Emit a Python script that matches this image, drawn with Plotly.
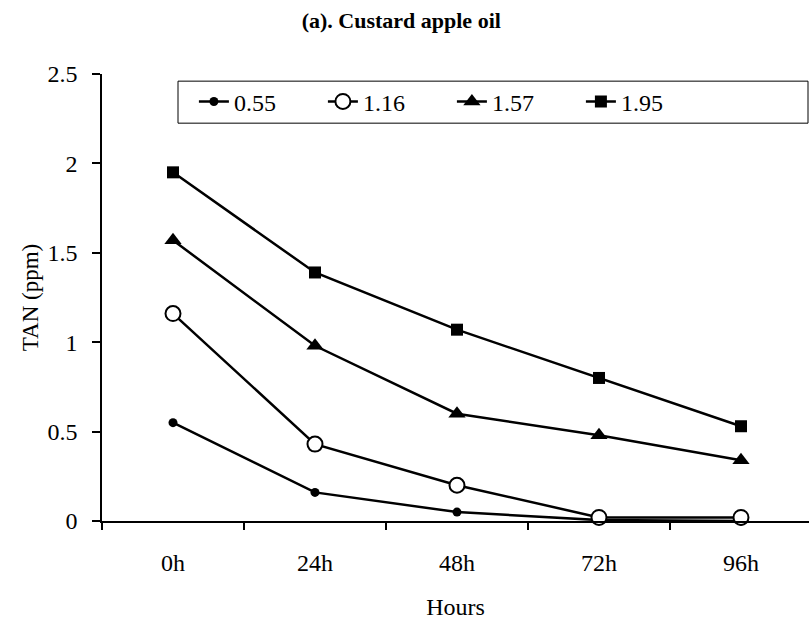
import plotly.graph_objects as go

hours = ["0h", "24h", "48h", "72h", "96h"]
series_names = ["0.55", "1.16", "1.57", "1.95"]
s055 = [0.55, 0.16, 0.05, 0.005, 0.0]
s116 = [1.16, 0.43, 0.20, 0.02, 0.02]
s157 = [1.57, 0.98, 0.60, 0.48, 0.34]
s195 = [1.95, 1.39, 1.07, 0.80, 0.53]
y_ticks = [0, 0.5, 1, 1.5, 2, 2.5]
y_ticktext = ["0", "0.5", "1", "1.5", "2", "2.5"]

FONT = "Liberation Serif, Times New Roman, serif"

styles = [
    dict(symbol="circle", size=9, color="black", line=dict(color="black", width=0)),
    dict(symbol="circle", size=15, color="white", line=dict(color="black", width=2)),
    dict(symbol="triangle-up", size=15, color="black", line=dict(color="black", width=0)),
    dict(symbol="square", size=12, color="black", line=dict(color="black", width=0)),
]

fig = go.Figure()
for name, vals, st in zip(series_names, [s055, s116, s157, s195], styles):
    fig.add_trace(go.Scatter(
        x=hours, y=vals, name=name, mode="lines+markers",
        line=dict(color="black", width=2.5),
        marker=st, cliponaxis=False,
    ))

fig.update_layout(
    width=809, height=623,
    margin=dict(l=102, r=0, t=74, b=102),
    paper_bgcolor="white", plot_bgcolor="white",
    font=dict(family=FONT, color="black", size=24),
    title=dict(text="<b>(a). Custard apple oil</b>", x=0.496, xanchor="center",
               y=0.967, yanchor="middle", font=dict(size=22, family=FONT)),
    showlegend=True,
    legend=dict(orientation="h", x=0.13, xanchor="left", y=0.988, yanchor="top",
                bgcolor="rgba(0,0,0,0)", borderwidth=0,
                entrywidth=84, entrywidthmode="pixels",
                font=dict(size=24, family=FONT), itemwidth=30),
    shapes=[dict(type="rect", xref="paper", yref="paper",
                 x0=0.1075, x1=0.9986, y0=0.890, y1=0.984,
                 line=dict(color="black", width=1), fillcolor="rgba(0,0,0,0)", layer="below")],
)

fig.update_xaxes(
    type="category", range=[-0.5, 4.479],
    showline=True, linecolor="black", linewidth=1.5,
    ticks="outside", ticklen=7, tickcolor="black", tickwidth=1.5,
    tickson="boundaries", showgrid=False, zeroline=False,
    tickfont=dict(size=24, family=FONT), ticklabelstandoff=19,
    title=dict(text="Hours", font=dict(size=24, family=FONT), standoff=24),
)
fig.update_yaxes(
    range=[0, 2.5], tickvals=y_ticks, ticktext=y_ticktext,
    showline=True, linecolor="black", linewidth=1.5,
    ticks="outside", ticklen=8, tickcolor="black", tickwidth=1.5,
    showgrid=False, zeroline=False,
    tickfont=dict(size=24, family=FONT), ticklabelstandoff=10,
    title=dict(text="TAN (ppm)", font=dict(size=23, family=FONT), standoff=2),
)

fig.write_html("out.html")
